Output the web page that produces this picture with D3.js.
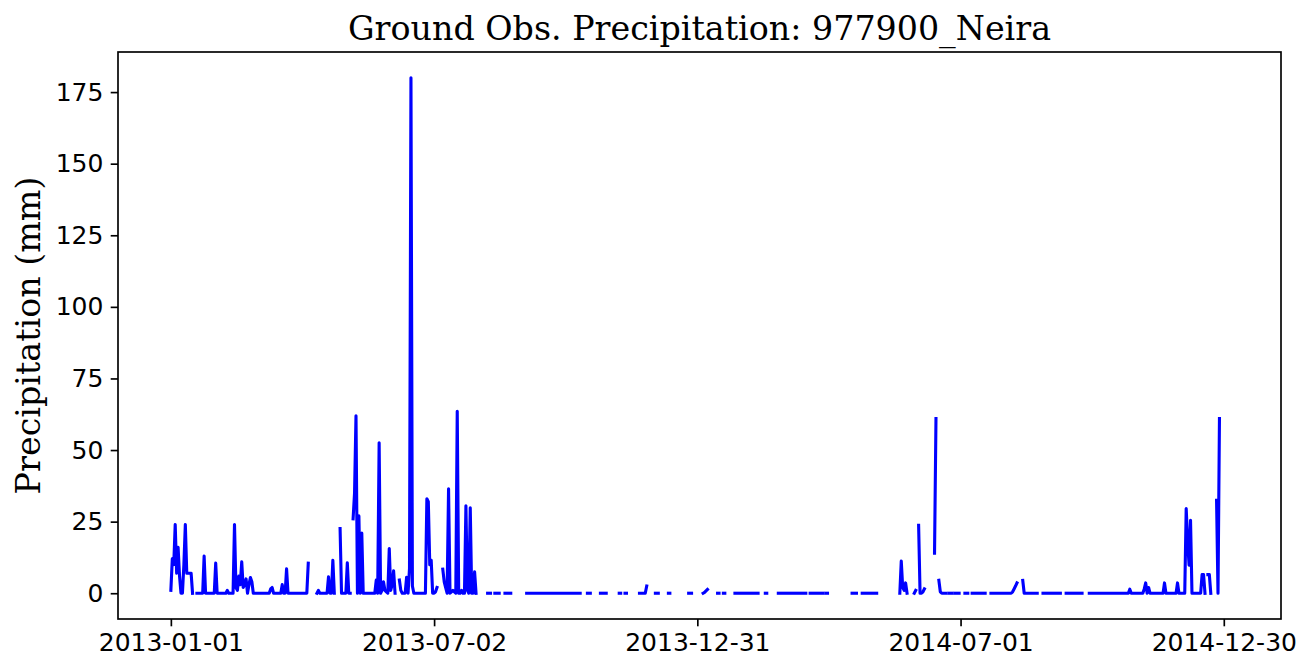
<!DOCTYPE html>
<html><head><meta charset="utf-8">
<script src="https://cdn.jsdelivr.net/npm/d3@7"></script>
<style>body{margin:0;background:#fff}</style>
</head><body>
<svg id="chart" width="1312" height="672"></svg>
<script>
// Contiguous observation periods (gaps between them are missing data)
const segmentStarts = ["2013-01-01","2013-01-19","2013-04-12","2013-04-28","2013-05-07","2013-06-08","2013-07-08",
  "2013-08-08","2013-08-13","2013-08-20","2013-09-04","2013-10-16","2013-10-25","2013-11-07","2013-11-11","2013-11-21",
  "2013-12-02","2013-12-11","2013-12-25","2014-01-04","2014-01-14","2014-01-18","2014-01-26","2014-02-16","2014-02-25",
  "2014-03-19","2014-03-30","2014-04-17","2014-04-24","2014-05-20","2014-05-30","2014-06-02","2014-06-13","2014-06-16",
  "2014-06-23","2014-06-27","2014-07-04","2014-07-09","2014-07-22","2014-08-13","2014-08-27","2014-09-12","2014-09-28",
  "2014-12-19","2014-12-25"];
const segmentEnds = ["2013-01-16","2013-04-06","2013-04-24","2013-05-05","2013-06-05","2013-07-04","2013-07-31",
  "2013-08-10","2013-08-16","2013-08-24","2013-10-11","2013-10-18","2013-10-29","2013-11-08","2013-11-12","2013-11-26",
  "2013-12-04","2013-12-12","2013-12-27","2014-01-07","2014-01-15","2014-01-19","2014-02-11","2014-02-17","2014-03-16",
  "2014-03-28","2014-03-31","2014-04-20","2014-05-04","2014-05-25","2014-05-31","2014-06-06","2014-06-14","2014-06-21",
  "2014-06-25","2014-06-30","2014-07-06","2014-07-18","2014-08-09","2014-08-23","2014-09-08","2014-09-23","2014-12-17",
  "2014-12-21","2014-12-27"];
// Days with non-zero precipitation (all other observed days are 0 mm)
const rainDates = ["2013-01-01","2013-01-02","2013-01-03","2013-01-04","2013-01-05","2013-01-06","2013-01-07","2013-01-10",
  "2013-01-11","2013-01-12","2013-01-13","2013-01-14","2013-01-15","2013-01-24","2013-02-01","2013-02-09","2013-02-14",
  "2013-02-15","2013-02-16","2013-02-17","2013-02-18","2013-02-19","2013-02-20","2013-02-21","2013-02-22","2013-02-24",
  "2013-02-25","2013-02-26","2013-03-11","2013-03-12","2013-03-19","2013-03-22","2013-04-06","2013-04-13","2013-04-20",
  "2013-04-23","2013-04-28","2013-05-03","2013-05-07","2013-05-08","2013-05-09","2013-05-11","2013-05-13","2013-05-23",
  "2013-05-25","2013-05-27","2013-05-28","2013-05-29","2013-05-30","2013-06-01","2013-06-02","2013-06-03","2013-06-04",
  "2013-06-08","2013-06-09","2013-06-13","2013-06-15","2013-06-16","2013-06-17","2013-06-27","2013-06-28","2013-06-29",
  "2013-06-30","2013-07-03","2013-07-04","2013-07-08","2013-07-09","2013-07-10","2013-07-12","2013-07-14","2013-07-15",
  "2013-07-16","2013-07-18","2013-07-21","2013-07-24","2013-07-25","2013-07-27","2013-07-30","2013-11-26","2014-01-05",
  "2014-01-06","2014-01-07","2014-05-21","2014-05-22","2014-05-23","2014-05-24","2014-05-31","2014-06-02","2014-06-05",
  "2014-06-06","2014-06-13","2014-06-14","2014-06-16","2014-06-17","2014-08-06","2014-08-07","2014-08-08","2014-08-09",
  "2014-08-13","2014-10-26","2014-11-05","2014-11-06","2014-11-08","2014-11-19","2014-11-28","2014-12-04","2014-12-05",
  "2014-12-06","2014-12-07","2014-12-15","2014-12-16","2014-12-19","2014-12-20","2014-12-25","2014-12-27"];
const rainValues = [1,12,10,24,7,16,6,10,
  24,7,7,7,7,13,10.5,1,24,
  2,1,6,3,11,2,3,5,3,
  5.5,4,1.5,2,3,8.5,10.5,1,5.7,
  11.5,22.6,10.6,26,35,62,27,21,4.6,
  52.5,1,4,1,0.5,15.6,1,3,7.8,
  4.6,1,5.6,8.7,180,2.5,33,32,10,
  11.5,0.5,2,8.4,4,2,36.5,0.5,1,
  0.5,63.5,1,30.5,1,29.8,7.5,2.5,0.3,
  0.8,1.3,11.2,2,1,3.6,1,23.7,0.5,
  1.5,14,61,4.5,0.5,0.5,1.5,2.5,3.6,
  4.5,1.4,1.5,3.6,2,3.6,3.6,29.6,18,
  9.8,25.5,6.5,6.5,6.5,6.5,32.5,61];
const xTickDates = ["2013-01-01","2013-07-02","2013-12-31","2014-07-01","2014-12-30"];
const yTickValues = [0,25,50,75,100,125,150,175];

const titleText = "Ground Obs. Precipitation: 977900_Neira";
const yLabelText = "Precipitation (mm)";

const W = 1312, H = 672;
const m = {left:118, right:1281, top:52, bottom:619};
const parse = d3.utcParse("%Y-%m-%d");
const fmt = d3.utcFormat("%Y-%m-%d");
const rainMap = new Map(rainDates.map((d,i)=>[d, rainValues[i]]));

const segments = segmentStarts.map((s,i)=>
  d3.utcDay.range(parse(s), d3.utcDay.offset(parse(segmentEnds[i]),1))
    .map(d=>({date:d, value: rainMap.has(fmt(d)) ? rainMap.get(fmt(d)) : 0})));

const day = 864e5;
const t0 = parse("2013-01-01").getTime();
const x = d3.scaleUtc()
  .domain([new Date(t0 - 36.55*day), new Date(t0 + 767.55*day)])
  .range([m.left, m.right]);
const y = d3.scaleLinear().domain([-9, 189]).range([m.bottom, m.top]);

const svg = d3.select("#chart");
svg.append("rect").attr("width",W).attr("height",H).attr("fill","#fff");

const g = svg.append("g");
const line = d3.line().x(d=>x(d.date)).y(d=>y(d.value));
g.selectAll("path.seg").data(segments).join("path")
  .attr("class","seg")
  .attr("d", line)
  .attr("fill","none")
  .attr("stroke","#0000ff")
  .attr("stroke-width",3.1)
  .attr("stroke-linejoin","round")
  .attr("stroke-linecap","square");

// axes
const xAxis = d3.axisBottom(x).tickValues(xTickDates.map(parse)).tickFormat(fmt).tickSize(7.3).tickPadding(7.3);
const yAxis = d3.axisLeft(y).tickValues(yTickValues).tickSize(7.3).tickPadding(7.3);
const gx = svg.append("g").attr("transform",`translate(0,${m.bottom})`).call(xAxis);
const gy = svg.append("g").attr("transform",`translate(${m.left},0)`).call(yAxis);
[gx,gy].forEach(a=>{
  a.select(".domain").remove();
  a.selectAll(".tick line").attr("stroke","#000").attr("stroke-width",1.67);
  a.selectAll(".tick text").attr("fill","#000").style("font-family","'DejaVu Sans'").style("font-size","25px");
});

// frame
svg.append("rect").attr("x",m.left).attr("y",m.top).attr("width",m.right-m.left).attr("height",m.bottom-m.top)
  .attr("fill","none").attr("stroke","#000").attr("stroke-width",1.67);

svg.append("text").attr("x",(m.left+m.right)/2).attr("y",40).attr("text-anchor","middle")
  .style("font-family","'DejaVu Serif'").style("font-size","33.3px").attr("fill","#000").text(titleText);
svg.append("text").attr("transform",`translate(40,${(m.top+m.bottom)/2}) rotate(-90)`).attr("text-anchor","middle")
  .style("font-family","'DejaVu Serif'").style("font-size","33.3px").attr("fill","#000").text(yLabelText);
</script>
</body></html>
